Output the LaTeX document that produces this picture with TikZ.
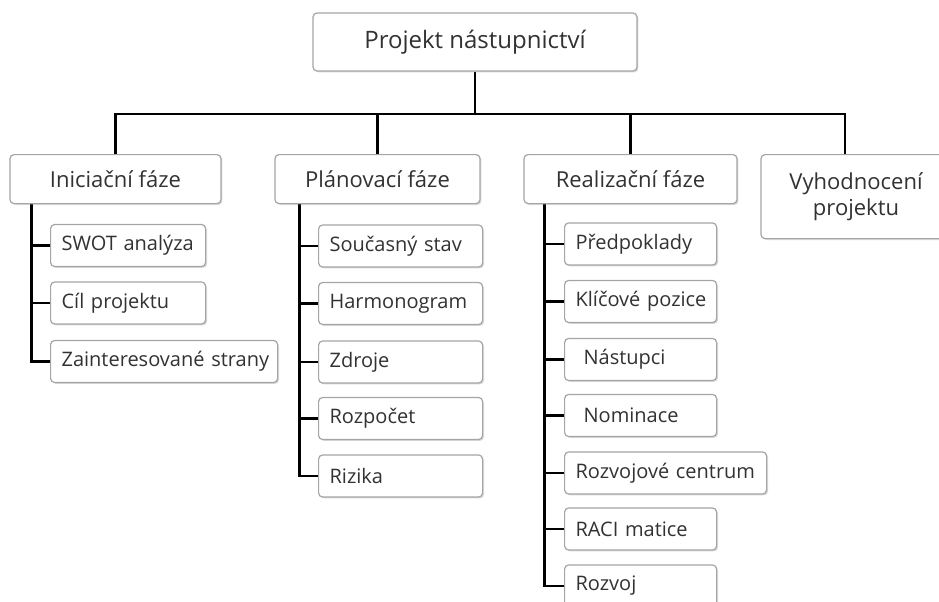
\documentclass[tikz,border=0pt]{standalone}
\usepackage{fontspec}
\setmainfont{Open Sans}
\usetikzlibrary{positioning,shadows,backgrounds}
\definecolor{boxline}{RGB}{165,165,165}
\definecolor{textgray}{RGB}{50,50,50}

\tikzset{
  box/.style={draw=boxline, line width=0.6pt, rounded corners=2pt, fill=white,
    text=textgray, drop shadow={shadow xshift=0.7pt, shadow yshift=-0.7pt, opacity=0.3}},
  rootbox/.style={box, minimum width=162pt, minimum height=29pt,
    font=\fontsize{12}{14}\selectfont},
  phasebox/.style={box, anchor=north, minimum height=24.5pt,
    font=\fontsize{11}{13}\selectfont},
  itembox/.style={box, anchor=west, align=left, inner xsep=5.5pt, inner ysep=0pt,
    minimum height=21pt, font=\fontsize{10}{12}\selectfont,
    execute at begin node={\hbox\bgroup}, execute at end node={\egroup}},
  conn/.style={line width=1.3pt, black},
}

\begin{document}
\begin{tikzpicture}[x=0.5pt, y=-0.5pt]
\useasboundingbox (0,0) rectangle (939,601);

% ================= TOP =================
\node[rootbox] (root) at (475,42) {Projekt nástupnictví};
\coordinate (bus) at (475,114);

% ================= PHASES =================
\node[phasebox, minimum width=105.5pt] (ini) at (115.5,154) {Iniciační fáze};
\node[phasebox, minimum width=102.5pt] (pla) at (377.5,154) {Plánovací fáze};
\node[phasebox, minimum width=106.5pt] (rea) at (630.5,154) {Realizační fáze};
\node[phasebox, minimum width=95pt, minimum height=42pt, align=center] (vyh) at (856,154)
  {Vyhodnocení\\projektu};

% ================= ITEMS: INICIACNI =================
\node[itembox, text width=66.5pt] (ini1) at (50,245.5) {SWOT analýza};
\node[itembox, text width=66.5pt] (ini2) at (50,303) {Cíl projektu};
\node[itembox, text width=102.5pt] (ini3) at (50,361.5) {Zainteresované strany};

% ================= ITEMS: PLANOVACI =================
\node[itembox, text width=71pt] (pla1) at (318,246) {Současný stav};
\node[itembox, text width=71pt] (pla2) at (318,303.5) {Harmonogram};
\node[itembox, text width=71pt] (pla3) at (318,362) {Zdroje};
\node[itembox, text width=71pt] (pla4) at (318,418.5) {Rozpočet};
\node[itembox, text width=71pt] (pla5) at (318,476) {Rizika};

% ================= ITEMS: REALIZACNI =================
\node[itembox, text width=65pt] (rea1) at (564,244) {Předpoklady};
\node[itembox, text width=65pt] (rea2) at (564,301.5) {Klíčové pozice};
\node[itembox, text width=65pt] (rea3) at (564,359.5) {\hspace*{4pt}Nástupci};
\node[itembox, text width=65pt] (rea4) at (564,415.5) {\hspace*{4pt}Nominace};
\node[itembox, text width=90pt] (rea5) at (564,473) {Rozvojové centrum};
\node[itembox, text width=65pt] (rea6) at (564,529) {RACI matice};
\node[itembox, text width=65pt] (rea7) at (564,586) {Rozvoj};

% ================= CONNECTORS =================
\begin{scope}[on background layer]
\draw[conn] (root.south) -- (bus);
\draw[conn] (ini.north) |- ([xshift=-5.5pt]vyh.north |- bus) -- ([xshift=-5.5pt]vyh.north);
\draw[conn] (pla.north) -- (pla.north |- bus);
\draw[conn] (rea.north) -- (rea.north |- bus);

% spines
\draw[conn] ([xshift=11pt]ini.south west) |- (ini1.west);
\draw[conn] ([xshift=11pt]ini.south west) |- (ini2.west);
\draw[conn] ([xshift=11pt]ini.south west) |- (ini3.west);

\draw[conn] ([xshift=12.5pt]pla.south west) |- (pla1.west);
\draw[conn] ([xshift=12.5pt]pla.south west) |- (pla2.west);
\draw[conn] ([xshift=12.5pt]pla.south west) |- (pla3.west);
\draw[conn] ([xshift=12.5pt]pla.south west) |- (pla4.west);
\draw[conn] ([xshift=12.5pt]pla.south west) |- (pla5.west);

\draw[conn] ([xshift=10.5pt]rea.south west) |- (rea1.west);
\draw[conn] ([xshift=10.5pt]rea.south west) |- (rea2.west);
\draw[conn] ([xshift=10.5pt]rea.south west) |- (rea3.west);
\draw[conn] ([xshift=10.5pt]rea.south west) |- (rea4.west);
\draw[conn] ([xshift=10.5pt]rea.south west) |- (rea5.west);
\draw[conn] ([xshift=10.5pt]rea.south west) |- (rea6.west);
\draw[conn] ([xshift=10.5pt]rea.south west) |- (rea7.west);
\end{scope}

\end{tikzpicture}
\end{document}
